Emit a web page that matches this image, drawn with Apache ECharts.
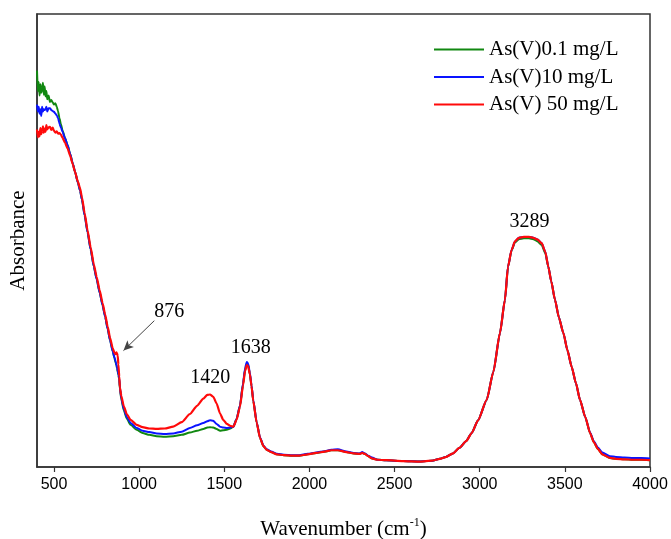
<!DOCTYPE html>
<html>
<head>
<meta charset="utf-8">
<script src="https://cdn.jsdelivr.net/npm/echarts@6/dist/echarts.min.js"></script>
<style>html,body{margin:0;padding:0;background:#fff}#c{width:671px;height:539px}</style>
</head>
<body>
<div id="c"></div>
<script>
// Wavenumber (cm-1)
const wavenumbers = [
  400,405,410,415,420,425,430,435,440,445,
  450,455,460,468,476,484,492,500,508,516,
  524,532,540,550,564,580,594,610,623,640,
  653,664,680,697,715,734,750,768,785,800,
  815,829,845,855,862,866,870,874,878,883,
  887,895,910,927,950,985,1020,1060,1103,1150,
  1200,1250,1298,1340,1377,1400,1416,1435,1455,1475,
  1494,1515,1535,1553,1572,1592,1610,1622,1632,1640,
  1650,1660,1670,1690,1710,1730,1749,1775,1808,1850,
  1900,1940,1990,2040,2090,2128,2167,2217,2260,2294,
  2310,2325,2345,2367,2400,2450,2550,2650,2720,2766,
  2800,2843,2880,2920,2953,2990,3041,3080,3119,3148,
  3166,3187,3207,3230,3260,3289,3315,3340,3364,3385,
  3403,3420,3442,3465,3491,3515,3540,3565,3589,3620,
  3648,3670,3694,3720,3765,3800,3850,3900,3950,4000
];
// Absorbance (arbitrary units)
const green01 = [
  0.875,0.83,0.85,0.82,0.845,0.826,0.835,0.848,0.822,0.84,
  0.818,0.83,0.812,0.82,0.806,0.81,0.805,0.8,0.803,0.795,
  0.785,0.77,0.757,0.743,0.727,0.71,0.692,0.67,0.652,0.628,
  0.61,0.59,0.555,0.518,0.48,0.442,0.415,0.385,0.357,0.332,
  0.305,0.28,0.255,0.24,0.23,0.224,0.218,0.21,0.203,0.193,
  0.172,0.15,0.125,0.107,0.093,0.082,0.075,0.071,0.068,0.067,
  0.068,0.071,0.076,0.08,0.084,0.087,0.088,0.087,0.084,0.08,
  0.081,0.082,0.085,0.089,0.106,0.135,0.183,0.215,0.228,0.225,
  0.205,0.178,0.146,0.098,0.064,0.046,0.038,0.033,0.028,0.026,
  0.025,0.025,0.028,0.031,0.034,0.037,0.037,0.033,0.03,0.029,
  0.031,0.029,0.024,0.019,0.016,0.015,0.013,0.012,0.014,0.018,
  0.022,0.03,0.042,0.057,0.075,0.103,0.148,0.21,0.296,0.369,
  0.442,0.478,0.496,0.503,0.505,0.505,0.503,0.498,0.49,0.472,
  0.442,0.41,0.369,0.33,0.296,0.258,0.221,0.185,0.148,0.11,
  0.075,0.055,0.04,0.028,0.02,0.018,0.017,0.016,0.016,0.015
];
const blue10 = [
  0.80,0.785,0.795,0.78,0.79,0.775,0.795,0.785,0.79,0.788,
  0.79,0.795,0.785,0.792,0.792,0.788,0.786,0.784,0.78,0.776,
  0.77,0.758,0.75,0.74,0.726,0.71,0.692,0.67,0.652,0.628,
  0.61,0.59,0.555,0.518,0.48,0.442,0.415,0.385,0.357,0.332,
  0.305,0.28,0.255,0.242,0.232,0.226,0.22,0.212,0.205,0.196,
  0.175,0.152,0.128,0.11,0.097,0.086,0.08,0.077,0.074,0.073,
  0.074,0.078,0.086,0.092,0.097,0.101,0.103,0.102,0.095,0.089,
  0.087,0.086,0.087,0.089,0.106,0.136,0.185,0.218,0.232,0.228,
  0.208,0.18,0.148,0.099,0.065,0.047,0.039,0.034,0.029,0.027,
  0.026,0.026,0.029,0.032,0.035,0.038,0.039,0.034,0.031,0.03,
  0.033,0.03,0.025,0.021,0.016,0.015,0.013,0.012,0.014,0.018,
  0.022,0.03,0.042,0.057,0.075,0.103,0.148,0.21,0.296,0.369,
  0.442,0.479,0.498,0.506,0.508,0.508,0.506,0.502,0.494,0.475,
  0.442,0.41,0.369,0.33,0.296,0.258,0.221,0.185,0.148,0.11,
  0.076,0.057,0.043,0.032,0.024,0.022,0.021,0.02,0.02,0.019
];
const red50 = [
  0.745,0.728,0.74,0.73,0.748,0.735,0.742,0.752,0.738,0.747,
  0.74,0.755,0.745,0.75,0.751,0.744,0.749,0.742,0.738,0.741,
  0.736,0.737,0.734,0.727,0.716,0.703,0.688,0.668,0.652,0.63,
  0.615,0.595,0.56,0.522,0.485,0.447,0.42,0.39,0.362,0.337,
  0.31,0.285,0.262,0.252,0.249,0.253,0.251,0.246,0.226,0.2,
  0.176,0.157,0.134,0.117,0.104,0.093,0.088,0.085,0.084,0.085,
  0.089,0.099,0.117,0.135,0.151,0.159,0.16,0.155,0.14,0.118,
  0.104,0.095,0.091,0.089,0.104,0.133,0.18,0.212,0.225,0.222,
  0.205,0.178,0.146,0.098,0.064,0.046,0.038,0.033,0.028,0.026,
  0.025,0.025,0.028,0.031,0.034,0.037,0.037,0.033,0.03,0.029,
  0.031,0.029,0.024,0.019,0.016,0.015,0.013,0.012,0.014,0.018,
  0.022,0.03,0.042,0.057,0.075,0.103,0.148,0.21,0.296,0.369,
  0.442,0.479,0.498,0.506,0.508,0.508,0.506,0.502,0.494,0.475,
  0.442,0.41,0.369,0.33,0.296,0.258,0.221,0.185,0.148,0.11,
  0.075,0.055,0.04,0.028,0.02,0.018,0.017,0.016,0.016,0.015
];
const seriesNames = ['As(V)0.1 mg/L', 'As(V)10 mg/L', 'As(V) 50 mg/L'];
const xTickValues = [500,1000,1500,2000,2500,3000,3500,4000];
// peak annotations: [label, wavenumber, absorbance]
const peakLabels = [
  ['876', 1177, 0.343],
  ['1420', 1418, 0.197],
  ['1638', 1656, 0.264],
  ['3289', 3293, 0.542]
];
const arrow876 = [[1089, 0.323], [908, 0.257]];

const SERIF = '"Liberation Serif", "Times New Roman", serif';
const SANS = '"Liberation Sans", Arial, sans-serif';

function pairs(vals) { return wavenumbers.map((w, i) => [w, vals[i]]); }

const chart = echarts.init(document.getElementById('c'), null, {renderer: 'canvas'});
chart.setOption({
  animation: false,
  backgroundColor: '#fff',
  grid: {left: 37, right: 21, top: 14, bottom: 72, outerBoundsMode: 'none', containLabel: false,
         show: true, borderColor: '#333', borderWidth: 1.5, backgroundColor: 'transparent'},
  legend: {
    data: seriesNames,
    orient: 'vertical', left: 434, top: 39, padding: 0,
    icon: 'rect', itemWidth: 50, itemHeight: 2, itemGap: 6.5,
    textStyle: {fontFamily: SERIF, fontSize: 21, color: '#000', lineHeight: 20}
  },
  xAxis: {
    type: 'value', min: 400, max: 4000,
    name: '{a|Wavenumber (cm}{s|-1}{a|)}',
    nameLocation: 'middle', nameGap: 50,
    nameTextStyle: {
      rich: {
        a: {fontFamily: SERIF, fontSize: 21, color: '#000'},
        s: {fontFamily: SERIF, fontSize: 12, color: '#000', padding: [0, 0, 12, 0]}
      }
    },
    axisLine: {lineStyle: {color: '#333', width: 1.5}},
    axisTick: {show: true, length: 5, lineStyle: {color: '#333', width: 1.2}, customValues: xTickValues},
    axisLabel: {fontFamily: SANS, fontSize: 16, color: '#000', margin: 10, customValues: xTickValues,
                formatter: v => String(v)},
    splitLine: {show: false}
  },
  yAxis: {
    type: 'value', min: 0, max: 1,
    name: 'Absorbance', nameLocation: 'middle', nameGap: 8,
    nameTextStyle: {fontFamily: SERIF, fontSize: 21, color: '#000'},
    axisLine: {show: true, lineStyle: {color: '#333', width: 1.5}},
    axisTick: {show: false}, axisLabel: {show: false}, splitLine: {show: false}
  },
  series: [
    {name: seriesNames[0], type: 'line', data: pairs(green01), showSymbol: false, symbol: 'none',
     smooth: 0.2, smoothMonotone: 'x',
     lineStyle: {color: '#118811', width: 2}, itemStyle: {color: '#118811'}},
    {name: seriesNames[1], type: 'line', data: pairs(blue10), showSymbol: false, symbol: 'none',
     smooth: 0.2, smoothMonotone: 'x',
     lineStyle: {color: '#0a14ff', width: 2}, itemStyle: {color: '#0a14ff'}},
    {name: seriesNames[2], type: 'line', data: pairs(red50), showSymbol: false, symbol: 'none',
     smooth: 0.2, smoothMonotone: 'x',
     lineStyle: {color: '#ff0a0a', width: 2.2}, itemStyle: {color: '#ff0a0a'},
     markLine: {
       silent: true, symbol: ['none', 'arrow'], symbolSize: [7, 10],
       lineStyle: {color: '#444', width: 1, type: 'solid'},
       label: {show: false},
       data: [[{coord: arrow876[0]}, {coord: arrow876[1]}]]
     },
     markPoint: {
       silent: true, symbol: 'rect', symbolSize: 1,
       itemStyle: {color: 'rgba(0,0,0,0)'},
       label: {show: true, position: 'inside', formatter: '{b}', fontFamily: SERIF, fontSize: 20, color: '#000'},
       data: peakLabels.map(p => ({name: p[0], coord: [p[1], p[2]]}))
     }}
  ]
});
</script>
</body>
</html>
